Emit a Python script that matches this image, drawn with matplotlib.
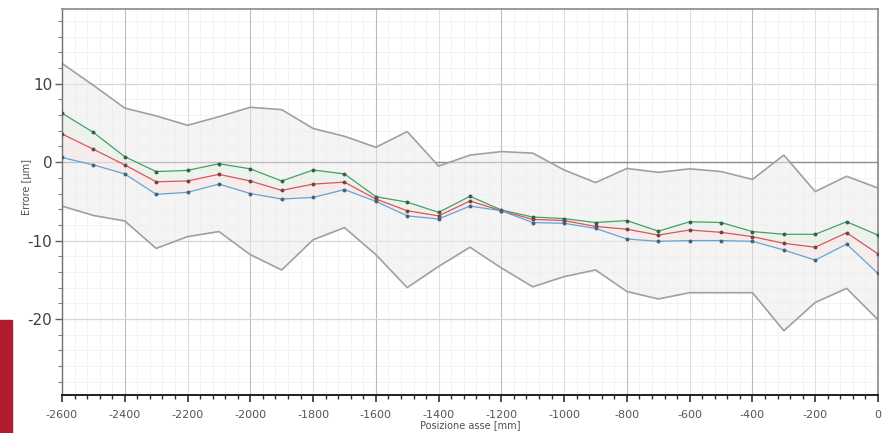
import numpy as np
import matplotlib
matplotlib.use("Agg")
import matplotlib.pyplot as plt
from matplotlib.ticker import MultipleLocator
from matplotlib.patches import Rectangle

positions = list(range(-2600, 1, 100))

upper_env = [12.6, 9.8, 6.9, 5.9, 4.7, 5.8, 7.0, 6.7, 4.3, 3.3, 1.9, 3.9, -0.5, 0.9,
             1.35, 1.15, -1.0, -2.6, -0.8, -1.3, -0.85, -1.2, -2.2, 0.9, -3.75, -1.8, -3.3]
green_vals = [6.25, 3.8, 0.7, -1.2, -1.05, -0.2, -0.85, -2.4, -1.0, -1.5, -4.4, -5.1, -6.4, -4.35,
              -6.1, -7.0, -7.2, -7.7, -7.45, -8.8, -7.6, -7.7, -8.85, -9.2, -9.2, -7.6, -9.3]
red_vals = [3.6, 1.65, -0.35, -2.5, -2.4, -1.55, -2.4, -3.6, -2.8, -2.55, -4.7, -6.2, -6.85, -4.95,
            -6.2, -7.3, -7.45, -8.2, -8.55, -9.3, -8.65, -8.95, -9.5, -10.35, -10.85, -9.0, -11.7]
blue_vals = [0.6, -0.35, -1.5, -4.1, -3.85, -2.8, -4.0, -4.7, -4.5, -3.5, -5.0, -6.85, -7.25, -5.6,
             -6.2, -7.7, -7.8, -8.45, -9.8, -10.1, -10.0, -10.0, -10.1, -11.2, -12.5, -10.45, -14.2]
lower_env = [-5.6, -6.8, -7.5, -11.0, -9.5, -8.85, -11.8, -13.75, -9.9, -8.35, -11.8, -16.0, -13.3,
             -10.85, -13.5, -15.9, -14.6, -13.75, -16.5, -17.45, -16.65, -16.65, -16.65, -21.5,
             -17.9, -16.1, -20.1]

x_ticks = list(range(-2600, 1, 200))
y_ticks = [10, 0, -10, -20]

W, H = 888, 433
fig = plt.figure(figsize=(W / 100, H / 100), dpi=100)
fig.patch.set_facecolor("white")
ax = fig.add_axes([62 / W, 1 - 395 / H, (878 - 62) / W, (395 - 9.3) / H])

ax.set_xlim(-2600, 0)
ax.set_ylim(-29.7, 19.5)

# grid
for xv in np.arange(-2600, 1, 40):
    ax.axvline(xv, color="#f1f1f1", lw=0.6, zorder=0)
for yv in np.arange(-28, 20, 2):
    ax.axhline(yv, color="#f1f1f1", lw=0.6, zorder=0)
for xv in x_ticks:
    c = "#bdbdbd" if xv % 400 == 0 else "#dedede"
    ax.axvline(xv, color=c, lw=0.8, zorder=0.5)
for yv in [10, -10, -20]:
    ax.axhline(yv, color="#d6d6d6", lw=0.9, zorder=0.5)
ax.axhline(0, color="#8c8c8c", lw=1.0, zorder=0.6)

# envelope
ax.fill_between(positions, lower_env, upper_env, color="#ececec", alpha=0.55, lw=0, zorder=1)
ax.plot(positions, upper_env, color="#a0a0a0", lw=1.2, zorder=2)
ax.plot(positions, lower_env, color="#a0a0a0", lw=1.2, zorder=2)

# faint bands
ax.fill_between(positions, red_vals, green_vals, color="#e6f3e8", alpha=0.5, lw=0, zorder=1.5)
ax.fill_between(positions, blue_vals, red_vals, color="#f8e6e6", alpha=0.5, lw=0, zorder=1.5)

ms = 1.8
ax.plot(positions, green_vals, color="#46a062", lw=0.9, marker="o", ms=ms,
        mfc="#35604a", mec="#35604a", zorder=3)
ax.plot(positions, red_vals, color="#e2505a", lw=0.9, marker="o", ms=ms,
        mfc="#704545", mec="#704545", zorder=3)
ax.plot(positions, blue_vals, color="#62a4d4", lw=0.9, marker="o", ms=ms,
        mfc="#45627a", mec="#45627a", zorder=3)

# ticks
ax.set_xticks(x_ticks)
ax.set_xticklabels([str(v) for v in x_ticks])
ax.xaxis.set_minor_locator(MultipleLocator(40))
ax.set_yticks(y_ticks)
ax.set_yticklabels([str(v) for v in y_ticks])
ax.yaxis.set_minor_locator(MultipleLocator(2))
ax.tick_params(axis="x", which="major", direction="out", length=5, width=1.2,
               color="#303030", labelsize=8, labelcolor="#555555", pad=6)
ax.tick_params(axis="x", which="minor", direction="out", length=3, width=1.0, color="#303030")
ax.tick_params(axis="y", which="major", direction="out", length=5, width=1.0,
               color="#606060", labelsize=11, labelcolor="#404040", pad=2)
ax.tick_params(axis="y", which="minor", direction="out", length=3, width=0.8, color="#808080")

for s in ["top", "right"]:
    ax.spines[s].set_color("#8a8a8a")
    ax.spines[s].set_linewidth(1.2)
ax.spines["left"].set_color("#707070")
ax.spines["left"].set_linewidth(1.0)
ax.spines["bottom"].set_color("#202020")
ax.spines["bottom"].set_linewidth(1.4)

ax.set_xlabel("Posizione asse [mm]", fontsize=7, color="#505050", labelpad=0)
ax.set_ylabel("Errore [µm]", fontsize=7, color="#505050", labelpad=8)
ax.yaxis.set_label_coords(-0.037, 0.54)

# red decoration bottom-left
fig.patches.append(Rectangle((0, 0), 12 / W, 113 / H, transform=fig.transFigure,
                             color="#b01c2e", zorder=10))

fig.savefig("out.png", dpi=100, facecolor="white")
